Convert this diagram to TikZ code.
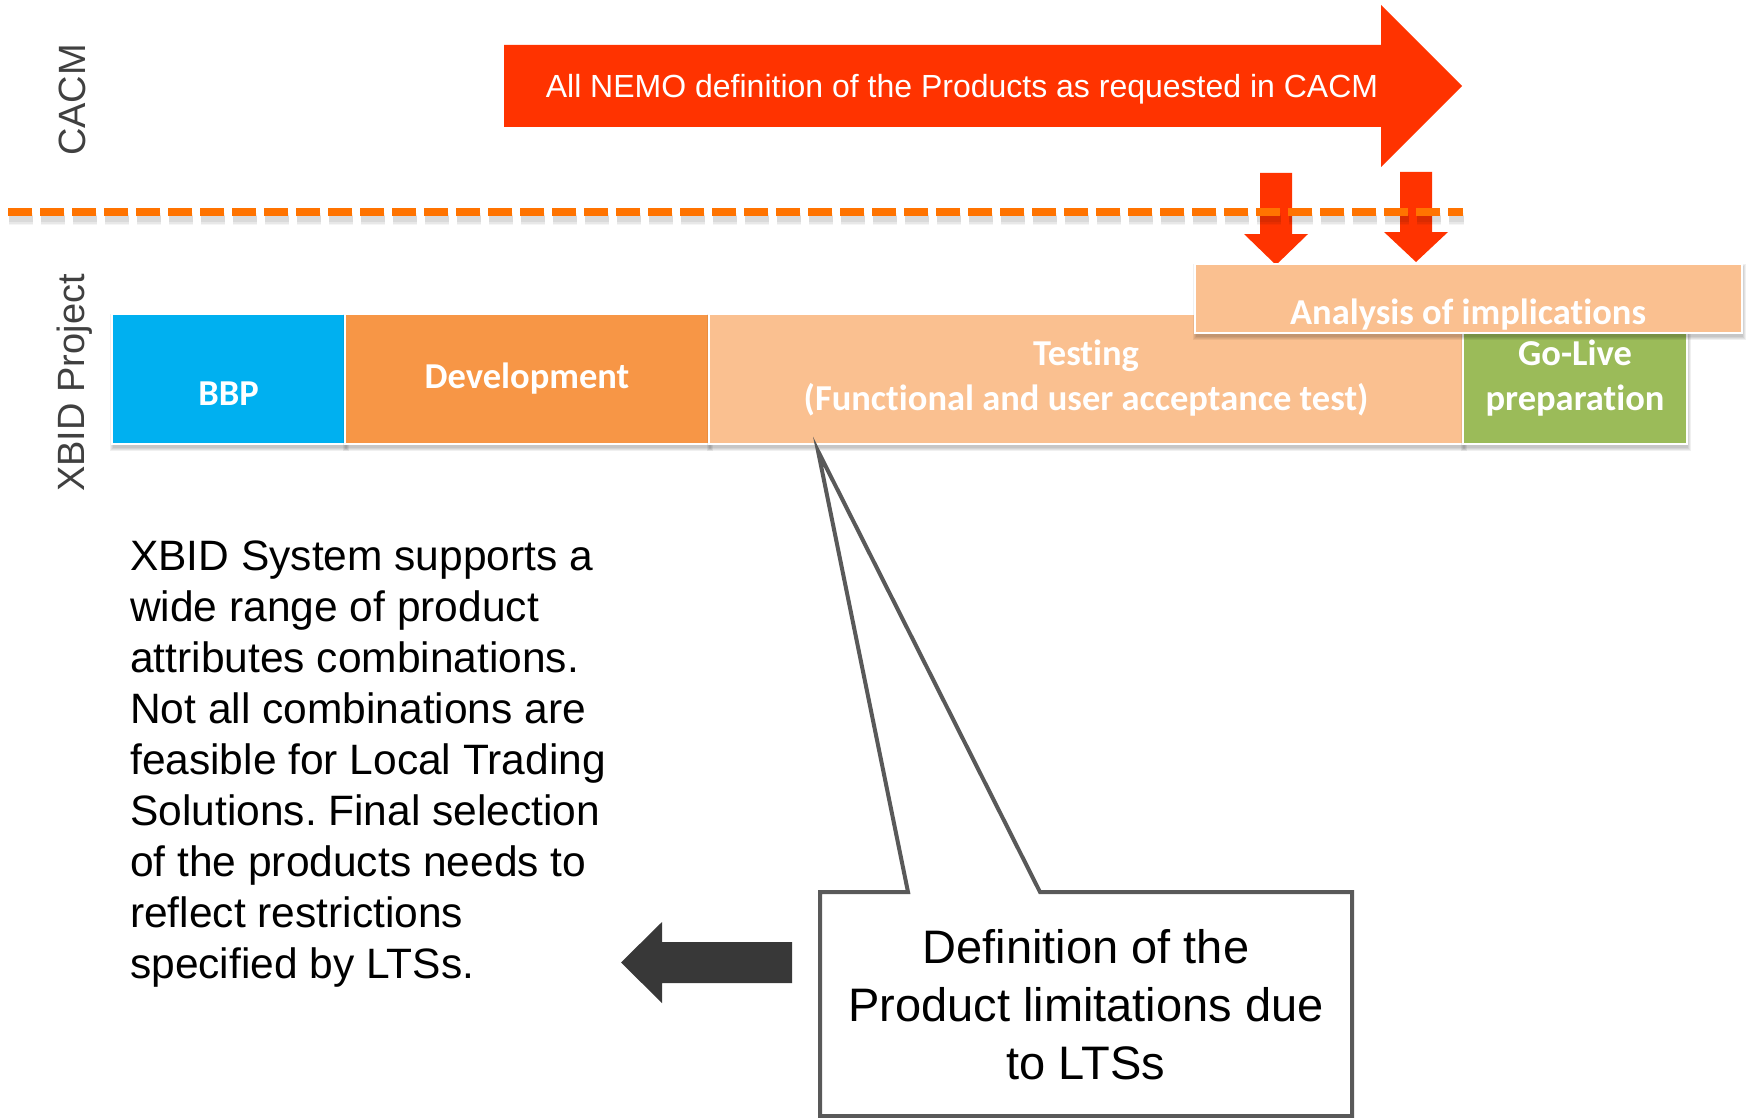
\documentclass[tikz,border=0pt]{standalone}
\usepackage{fontspec}
\setmainfont{Liberation Sans}
\newfontfamily\calib[Ligatures=NoCommon]{Carlito}
\usetikzlibrary{calc}
\frenchspacing
\definecolor{bbpblue}{HTML}{00B0F0}
\definecolor{devorange}{HTML}{F79646}
\definecolor{peach}{HTML}{FAC090}
\definecolor{golive}{HTML}{9BBB59}
\definecolor{arrred}{HTML}{FF3300}
\definecolor{dashorange}{HTML}{FF7300}
\definecolor{darkarrow}{HTML}{383838}
\definecolor{calloutgrey}{HTML}{595959}
\definecolor{sidegrey}{HTML}{404040}
\tikzset{
  phasebox/.style={draw=white, line width=2.5pt, inner sep=0pt, outer sep=0pt},
  phaselabel/.style={text=white, inner sep=0pt, anchor=base,
    font=\calib\bfseries\fontsize{36.5}{45}\selectfont},
  sidelabel/.style={text=sidegrey, inner sep=0pt, rotate=90, anchor=base,
    font=\fontsize{38}{44}\selectfont},
  redarrow/.style={fill=arrred},
  calloutline/.style={draw=calloutgrey, fill=white, line width=4pt, line join=miter},
  bodytext/.style={inner sep=0pt, font=\fontsize{42.5}{51}\selectfont},
  callouttext/.style={inner sep=0pt, anchor=base, font=\fontsize{47}{58}\selectfont},
}
% soft shadow + named box
\newcommand\drawphase[6]{%
  \foreach \s in {0,1,2,3}{%
    \fill[black,opacity=0.06] ({#2+1-\s},{#3+3-\s}) rectangle ({#4+1+\s},{#5+4+\s});}
  \node[phasebox, fill=#6, minimum width={#4-#2}, minimum height={#5-#3}]
    (#1) at ({(#2+#4)/2},{(#3+#5)/2}) {};
}
\begin{document}
\begin{tikzpicture}[x=1pt,y=-1pt]
\useasboundingbox (0,0) rectangle (1750,1118);
\fill[white] (0,0) rectangle (1750,1118);

% side labels
\node[sidelabel] (cacm) at (85,100) {CACM};
\node[sidelabel] (xbid) at (84,383) {XBID Project};

% big red arrow
\fill[redarrow] (504,45) -- (1381,45) -- (1381,5) -- (1462,86) -- (1381,167)
  -- (1381,127) -- (504,127) -- cycle;
\node[anchor=base, inner sep=0pt, text=white, font=\fontsize{32}{38}\selectfont]
  (nemo) at (962,98) {All NEMO definition of the Products as requested in CACM};

% small red arrows
\fill[redarrow] (1260,173) -- (1292,173) -- (1292,234) -- (1308,234) -- (1276,265)
  -- (1244,234) -- (1260,234) -- cycle;
\fill[redarrow] (1400,172) -- (1432,172) -- (1432,232) -- (1448,232) -- (1416,262)
  -- (1384,232) -- (1400,232) -- cycle;

% dashed separator with soft shadow
\foreach \s/\o in {0/0.06,1/0.05,2/0.04}{
  \draw[black, opacity=\o, line width={(6+3*\s)*1pt}, dash pattern=on 24pt off 8pt]
    (9,219) -- (1464,219);}
\draw[dashorange, line width=8pt, dash pattern=on 24pt off 8pt] (8,212) -- (1463,212);

% phases
\drawphase{bbp}{112}{314}{345}{444}{bbpblue}
\drawphase{dev}{345}{314}{709}{444}{devorange}
\drawphase{test}{709}{314}{1463}{444}{peach}
\drawphase{golive}{1463}{314}{1687}{444}{golive}
\node[phaselabel] (bbpl) at (228.5,405) {BBP};
\node[phaselabel] (devl) at (527,388) {Development};
\node[phaselabel] (testl) at (1086,365)
  {\begin{tabular}[t]{@{}c@{}}Testing\\(Functional and user acceptance test)\end{tabular}};
\node[phaselabel] (golivel) at (1575,365)
  {\begin{tabular}[t]{@{}c@{}}Go-Live\\preparation\end{tabular}};
\drawphase{analysis}{1195}{264}{1742}{333}{peach}
\node[phaselabel] (analysisl) at (1468,324) {Analysis of implications};

% callout
\node[inner sep=0pt, outer sep=0pt, minimum width=532, minimum height=224]
  (callout) at (1086,1004) {};
\coordinate (ptr) at (818,451);
\filldraw[calloutline] (callout.north west) -- ($(callout.north west)+(88,0)$) -- (ptr)
  -- ($(callout.north west)+(220,0)$) -- (callout.north east) -- (callout.south east)
  -- (callout.south west) -- cycle;
\node[callouttext] (calloutl) at (1086,963)
  {\begin{tabular}[t]{@{}c@{}}Definition of the\\Product limitations due\\to LTSs\end{tabular}};

% dark arrow
\fill[darkarrow] (792,942) -- (662,942) -- (662,922) -- (621,962.5) -- (662,1003)
  -- (662,983) -- (792,983) -- cycle;

% paragraph
\node[bodytext, anchor=base west] (para) at (130,570)
  {\begin{tabular}[t]{@{}l@{}}XBID System supports a\\wide range of product\\attributes combinations.\\Not all combinations are\\feasible for Local Trading\\Solutions. Final selection\\of the products needs to\\reflect restrictions\\specified by LTSs.\end{tabular}};
\end{tikzpicture}
\end{document}
